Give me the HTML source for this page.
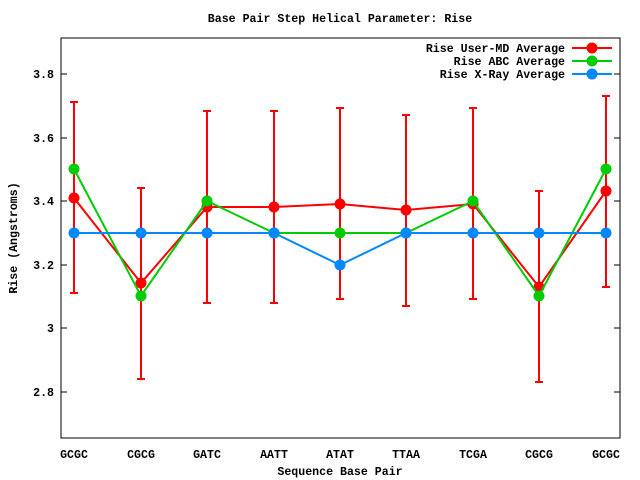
<!DOCTYPE html>
<html><head><style>body{margin:0;background:#fff}svg{display:block}text{font-family:"Liberation Mono",monospace;font-size:11.6px;font-weight:bold;fill:#000}</style></head>
<body>
<svg width="640" height="480" xmlns="http://www.w3.org/2000/svg">
<rect x="61" y="38" width="559" height="400" fill="none" stroke="#000" stroke-width="1"/>
<g stroke="#000">
<line x1="61" y1="74" x2="67" y2="74"/><line x1="614" y1="74" x2="620" y2="74"/>
<line x1="61" y1="138" x2="67" y2="138"/><line x1="614" y1="138" x2="620" y2="138"/>
<line x1="61" y1="201" x2="67" y2="201"/><line x1="614" y1="201" x2="620" y2="201"/>
<line x1="61" y1="265" x2="67" y2="265"/><line x1="614" y1="265" x2="620" y2="265"/>
<line x1="61" y1="328" x2="67" y2="328"/><line x1="614" y1="328" x2="620" y2="328"/>
<line x1="61" y1="392" x2="67" y2="392"/><line x1="614" y1="392" x2="620" y2="392"/>
</g>
<g text-anchor="end">
<text x="54" y="78">3.8</text><text x="54" y="142">3.6</text><text x="54" y="205">3.4</text>
<text x="54" y="269">3.2</text><text x="54" y="332">3</text><text x="54" y="396">2.8</text>
</g>
<g text-anchor="middle">
<text x="74" y="458">GCGC</text><text x="141" y="458">CGCG</text><text x="207" y="458">GATC</text>
<text x="274" y="458">AATT</text><text x="340" y="458">ATAT</text><text x="406" y="458">TTAA</text>
<text x="473" y="458">TCGA</text><text x="539" y="458">CGCG</text><text x="606" y="458">GCGC</text>
<text x="340" y="22">Base Pair Step Helical Parameter: Rise</text>
<text x="340" y="475">Sequence Base Pair</text>
<text transform="translate(17,238) rotate(-90)">Rise (Angstroms)</text>
</g>
<g stroke="#f00" stroke-width="2">
<path d="M74 102V293M70 102H78M70 293H78
M141 188V379M137 188H145M137 379H145
M207 111V303M203 111H211M203 303H211
M274 111V303M270 111H278M270 303H278
M340 108V299M336 108H344M336 299H344
M406 115V306M402 115H410M402 306H410
M473 108V299M469 108H477M469 299H477
M539 191V382M535 191H543M535 382H543
M606 96V287M602 96H610M602 287H610" fill="none"/>
</g>
<polyline fill="none" stroke="#f00" stroke-width="2" points="74,198 141,283 207,207 274,207 340,204 406,210 473,204 539,287 606,191"/>
<g fill="#f00"><circle cx="74" cy="198" r="5.5"/><circle cx="141" cy="283" r="5.5"/><circle cx="207" cy="207" r="5.5"/><circle cx="274" cy="207" r="5.5"/><circle cx="340" cy="204" r="5.5"/><circle cx="406" cy="210" r="5.5"/><circle cx="473" cy="204" r="5.5"/><circle cx="539" cy="287" r="5.5"/><circle cx="606" cy="191" r="5.5"/></g>
<polyline fill="none" stroke="#0c0" stroke-width="2" points="74,169 141,296 207,201 274,233 340,233 406,233 473,201 539,296 606,169"/>
<g fill="#0c0"><circle cx="74" cy="169" r="5.5"/><circle cx="141" cy="296" r="5.5"/><circle cx="207" cy="201" r="5.5"/><circle cx="274" cy="233" r="5.5"/><circle cx="340" cy="233" r="5.5"/><circle cx="406" cy="233" r="5.5"/><circle cx="473" cy="201" r="5.5"/><circle cx="539" cy="296" r="5.5"/><circle cx="606" cy="169" r="5.5"/></g>
<polyline fill="none" stroke="#08f" stroke-width="2" points="74,233 141,233 207,233 274,233 340,265 406,233 473,233 539,233 606,233"/>
<g fill="#08f"><circle cx="74" cy="233" r="5.5"/><circle cx="141" cy="233" r="5.5"/><circle cx="207" cy="233" r="5.5"/><circle cx="274" cy="233" r="5.5"/><circle cx="340" cy="265" r="5.5"/><circle cx="406" cy="233" r="5.5"/><circle cx="473" cy="233" r="5.5"/><circle cx="539" cy="233" r="5.5"/><circle cx="606" cy="233" r="5.5"/></g>
<g text-anchor="end">
<text x="565" y="52">Rise User-MD Average</text>
<text x="565" y="65">Rise ABC Average</text>
<text x="565" y="78">Rise X-Ray Average</text>
</g>
<line x1="572" y1="48" x2="612" y2="48" stroke="#f00" stroke-width="2"/><circle cx="592" cy="48" r="5.5" fill="#f00"/>
<line x1="572" y1="61" x2="612" y2="61" stroke="#0c0" stroke-width="2"/><circle cx="592" cy="61" r="5.5" fill="#0c0"/>
<line x1="572" y1="74" x2="612" y2="74" stroke="#08f" stroke-width="2"/><circle cx="592" cy="74" r="5.5" fill="#08f"/>
</svg>
</body></html>
